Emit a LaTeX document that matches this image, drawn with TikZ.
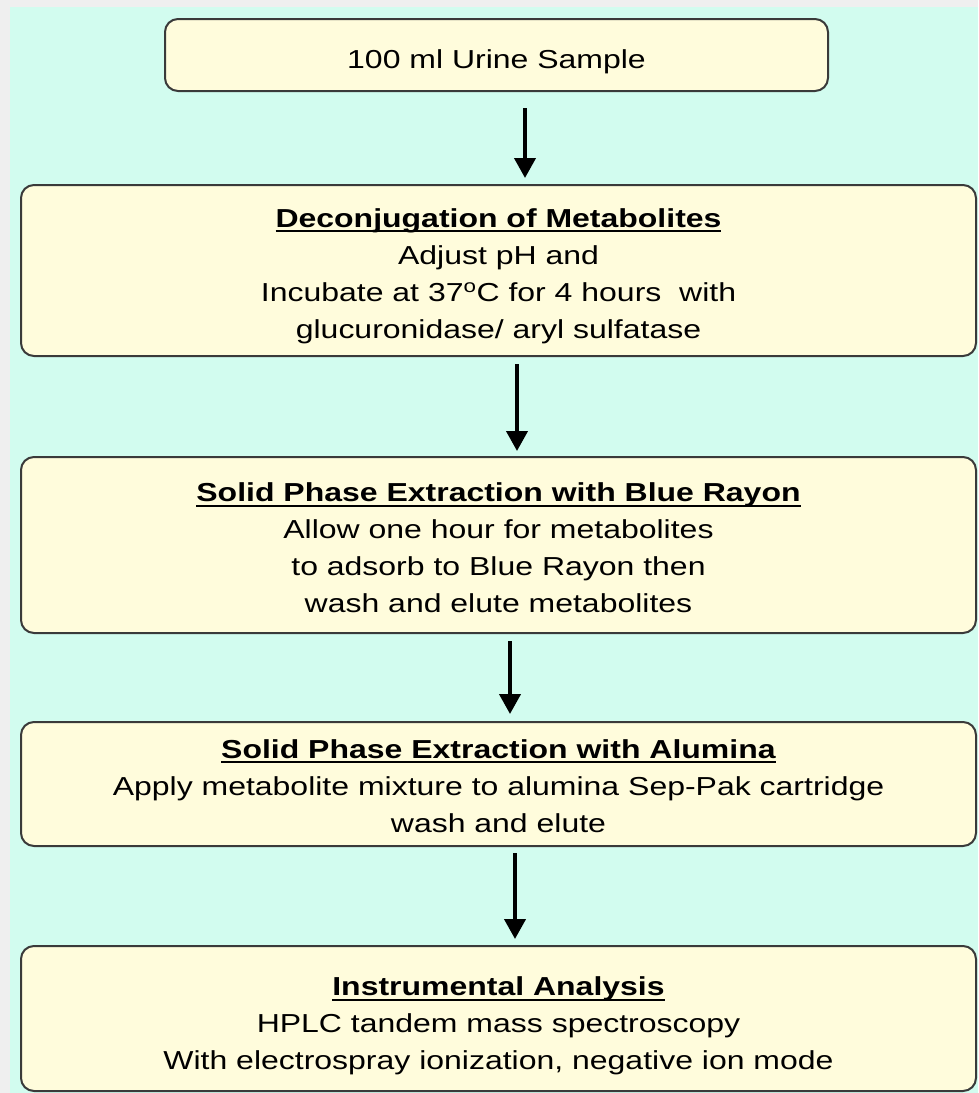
\documentclass[tikz,border=0pt]{standalone}
\usepackage{fontspec}
\setmainfont[FakeStretch=1.23]{Liberation Sans}
\usetikzlibrary{arrows.meta}
\definecolor{bgcyan}{HTML}{D2FCEF}
\definecolor{bggray}{HTML}{EFEFEF}
\definecolor{boxfill}{HTML}{FFFCDC}
\definecolor{boxline}{HTML}{3A3A3A}
\tikzset{
  stepbox/.style={draw=boxline, fill=boxfill, line width=2pt, rounded corners=13pt, inner sep=0pt},
  steptext/.style={align=center, font=\fontsize{26}{37}\selectfont, inner sep=0pt},
  flowarrow/.style={-{Triangle[width=21pt,length=20pt]}, line width=4pt, black},
}
\newcommand{\hd}[1]{\leavevmode\setbox0\hbox{\textbf{#1}}\rlap{\rule[-5pt]{\wd0}{2.2pt}}\box0}
\begin{document}
\begin{tikzpicture}[x=1pt,y=-1pt]
\useasboundingbox (0,0) rectangle (978,1093);
\fill[bggray] (0,0) rectangle (978,1093);
\fill[bgcyan] (10,7) rectangle (978,1093);

\node[stepbox, minimum width=663pt, minimum height=72pt] (b1) at (496.5,55) {};
\node[stepbox, minimum width=955pt, minimum height=171pt] (b2) at (498.5,270.5) {};
\node[stepbox, minimum width=955pt, minimum height=176pt] (b3) at (498.5,545) {};
\node[stepbox, minimum width=955pt, minimum height=124pt] (b4) at (498.5,784) {};
\node[stepbox, minimum width=955pt, minimum height=145pt] (b5) at (498.5,1018.5) {};

\node[steptext, yshift=-7pt] (t1) at (b1.center) {100 ml Urine Sample};
\node[steptext, yshift=-5.5pt] (t2) at (b2.center)
  {\hd{Deconjugation of Metabolites}\\Adjust pH and\\Incubate at 37\textsuperscript{o}C for 4 hours\ \ with\\glucuronidase/ aryl sulfatase};
\node[steptext, yshift=-3pt] (t3) at (b3.center)
  {\hd{Solid Phase Extraction with Blue Rayon}\\Allow one hour for metabolites\\to adsorb to Blue Rayon then\\wash and elute metabolites};
\node[steptext, yshift=-2pt] (t4) at (b4.center)
  {\hd{Solid Phase Extraction with Alumina}\\Apply metabolite mixture to alumina Sep-Pak cartridge\\wash and elute};
\node[steptext, yshift=-7.5pt] (t5) at (b5.center)
  {\hd{Instrumental Analysis}\\HPLC tandem mass spectroscopy\\With electrospray ionization, negative ion mode};

\coordinate (x1) at (525,0);
\coordinate (x2) at (517,0);
\coordinate (x3) at (510,0);
\coordinate (x4) at (515,0);
\draw[flowarrow, shorten <=16pt, shorten >=6pt] (b1.south -| x1) -- (b2.north -| x1);
\draw[flowarrow, shorten <=7pt, shorten >=5pt] (b2.south -| x2) -- (b3.north -| x2);
\draw[flowarrow, shorten <=7pt, shorten >=7pt] (b3.south -| x3) -- (b4.north -| x3);
\draw[flowarrow, shorten <=6pt, shorten >=6pt] (b4.south -| x4) -- (b5.north -| x4);
\end{tikzpicture}
\end{document}
